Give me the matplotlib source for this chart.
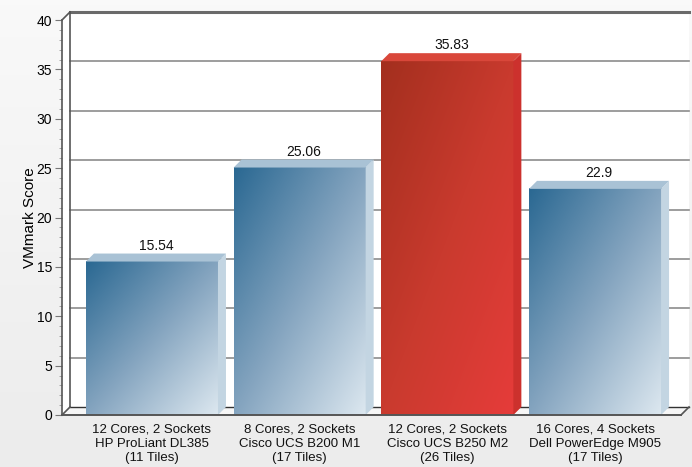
import numpy as np
import matplotlib
matplotlib.use("Agg")
import matplotlib.pyplot as plt
from matplotlib.colors import LinearSegmentedColormap
from matplotlib.patches import Polygon
from matplotlib.ticker import MultipleLocator

plt.rcParams['font.family'] = ['Liberation Sans', 'DejaVu Sans']

# data
categories = ["12 Cores, 2 Sockets\nHP ProLiant DL385\n(11 Tiles)",
              "8 Cores, 2 Sockets\nCisco UCS B200 M1\n(17 Tiles)",
              "12 Cores, 2 Sockets\nCisco UCS B250 M2\n(26 Tiles)",
              "16 Cores, 4 Sockets\nDell PowerEdge M905\n(17 Tiles)"]
scores = [15.54, 25.06, 35.83, 22.9]
score_labels = ["15.54", "25.06", "35.83", "22.9"]
highlight = [False, False, True, False]
y_ticks = [0, 5, 10, 15, 20, 25, 30, 35, 40]

blue_cmap = LinearSegmentedColormap.from_list("b", ["#2a6892", "#84a4bf", "#dde8f0"])
red_cmap = LinearSegmentedColormap.from_list("r", ["#a32f1e", "#c93a2e", "#e63c3a"])

fig = plt.figure(figsize=(6.92, 4.67), dpi=100)

# soft grey page background
bg = fig.add_axes([0, 0, 1, 1], zorder=-10)
bg.imshow(np.linspace(0, 1, 100).reshape(-1, 1), cmap=LinearSegmentedColormap.from_list(
    "g", ["#f9f9f9", "#ececec"]), aspect='auto', extent=(0, 1, 0, 1))
bg.axis('off')

ax = fig.add_axes([62/692, 52/467, 619/692, 395/467])
ax.set_facecolor('none')
xmin, xmax = -0.609, 3.582
ax.set_xlim(xmin, xmax)
ax.set_ylim(0, 40)

# depth of the fake 3d effect, 8 px right and 8 px up
inv = ax.transData.inverted()
p0 = inv.transform((0, 0))
p1 = inv.transform((8, 8))
dx, dy = p1 - p0

# back wall, side wall, floor
ax.add_patch(Polygon([(xmin + dx, dy), (xmax + dx, dy), (xmax + dx, 40 + dy), (xmin + dx, 40 + dy)],
                     closed=True, facecolor='white', edgecolor='none', zorder=0, clip_on=False))
ax.add_patch(Polygon([(xmin, 0), (xmin + dx, dy), (xmin + dx, 40 + dy), (xmin, 40)],
                     closed=True, facecolor='white', edgecolor='none', zorder=0, clip_on=False))
ax.add_patch(Polygon([(xmin, 0), (xmax, 0), (xmax + dx, dy), (xmin + dx, dy)],
                     closed=True, facecolor='#f6f6f6', edgecolor='none', zorder=0, clip_on=False))

for t in y_ticks[1:-1]:
    ax.plot([xmin + dx, xmax + dx], [t + dy, t + dy], color='#8c8c8c', lw=1.2, zorder=1, clip_on=False)
ax.plot([xmin + dx, xmax + dx], [40 + dy, 40 + dy], color='#6a6a6a', lw=2.2, zorder=1, clip_on=False)
ax.plot([xmin + dx, xmax + dx], [dy, dy], color='#333333', lw=1.0, zorder=1, clip_on=False)
ax.plot([xmin + dx, xmin + dx], [dy, 40 + dy], color='#555555', lw=1.2, zorder=1, clip_on=False)
ax.plot([xmin, xmin + dx], [40, 40 + dy], color='#555555', lw=1.2, zorder=1, clip_on=False)
ax.plot([xmin, xmin + dx], [0, dy], color='#555555', lw=1.2, zorder=1, clip_on=False)
ax.plot([xmax, xmax + dx], [0, dy], color='#555555', lw=1.2, zorder=1, clip_on=False)

# bars
x = np.arange(len(scores))
w = 0.894
bars = ax.bar(x, scores, width=w, facecolor='none', edgecolor='none', zorder=3)
gx, gy = np.meshgrid(np.linspace(0, 1, 200), np.linspace(0, 1, 200))
grad = (gx + gy) / 2
for b, hi, lab in zip(bars, highlight, score_labels):
    bx, bw, bh = b.get_x(), b.get_width(), b.get_height()
    cmap = red_cmap if hi else blue_cmap
    ax.imshow(grad, cmap=cmap, extent=(bx, bx + bw, 0, bh), origin='upper',
              aspect='auto', zorder=2, interpolation='bilinear')
    side_c = '#cc312d' if hi else '#c3d5e2'
    top_c = '#d9473a' if hi else '#a9c2d5'
    ax.add_patch(Polygon([(bx + bw, 0), (bx + bw + dx, dy), (bx + bw + dx, bh + dy), (bx + bw, bh)],
                         closed=True, facecolor=side_c, edgecolor='none', zorder=2))
    ax.add_patch(Polygon([(bx, bh), (bx + bw, bh), (bx + bw + dx, bh + dy), (bx + dx, bh + dy)],
                         closed=True, facecolor=top_c, edgecolor='none', zorder=2))
    ax.text(bx + bw / 2 + dx / 2, bh + dy + 0.1, lab, ha='center', va='bottom',
            fontsize=10, color='#111111', zorder=4)

ax.set_xlim(xmin, xmax)
ax.set_ylim(0, 40)

ax.set_xticks(x)
ax.set_xticklabels(categories, fontsize=9.5, linespacing=1.25, color='#111111')
ax.tick_params(axis='x', length=0, pad=6)
ax.yaxis.set_major_locator(MultipleLocator(5))
ax.yaxis.set_minor_locator(MultipleLocator(1))
ax.tick_params(axis='y', which='major', length=5, color='#777777', labelsize=10, pad=2)
ax.tick_params(axis='y', which='minor', length=2.5, color='#999999')
ax.set_ylabel("VMmark Score", fontsize=11, labelpad=0)

for s in ['top', 'right']:
    ax.spines[s].set_visible(False)
ax.spines['left'].set_color('#555555')
ax.spines['bottom'].set_color('#555555')
ax.spines['left'].set_linewidth(1.2)
ax.spines['bottom'].set_linewidth(1.4)

fig.savefig('out.png', dpi=100)
